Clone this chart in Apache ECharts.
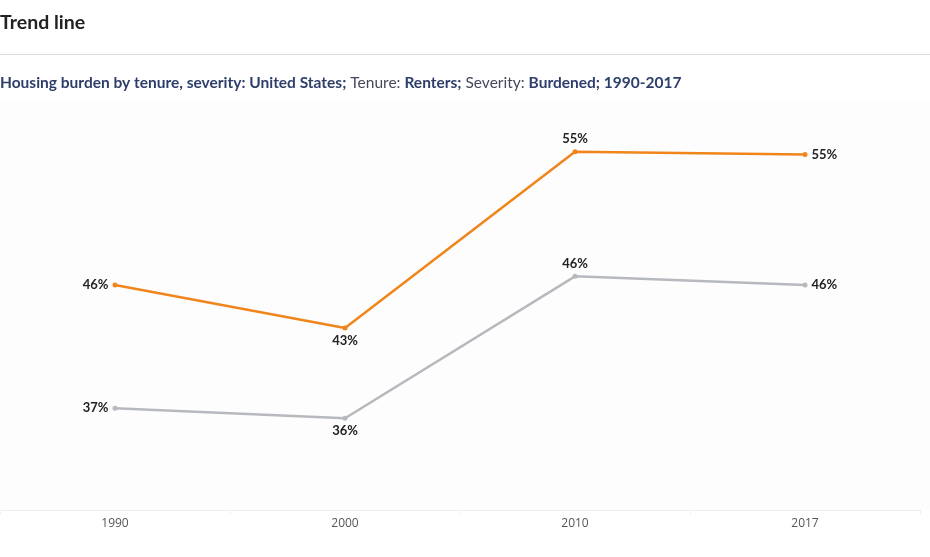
<!DOCTYPE html>
<html><head><meta charset="utf-8">
<script src="https://cdn.jsdelivr.net/npm/echarts@6/dist/echarts.min.js"></script>
<style>html,body{margin:0;padding:0;background:#fff}#c{width:930px;height:557px}</style>
</head><body><div id="c"></div>
<script>
const years = ['1990', '2000', '2010', '2017'];
const burdenedRenters = [45.7, 42.7, 55.0, 54.8];
const comparison = [37.1, 36.4, 46.3, 45.7];
const labelPositions = ['left', 'bottom', 'top', 'right'];

const chart = echarts.init(document.getElementById('c'));
const font = 'Lato, "Open Sans", sans-serif';
function mk(vals, color) {
  return {
    type: 'line',
    data: vals.map((v, i) => ({
      value: v,
      label: { position: labelPositions[i] }
    })),
    symbol: 'circle', symbolSize: 5,
    lineStyle: { color: color, width: 2.5 },
    itemStyle: { color: color },
    label: {
      show: true, distance: 4,
      formatter: p => Math.round(p.value) + '%',
      fontFamily: font, fontWeight: 'bold', fontSize: 13, color: '#222'
    },
    z: 3
  };
}
chart.setOption({
  animation: false,
  backgroundColor: '#fff',
  title: [{
    text: 'Trend line', left: 0, top: 13, padding: 0,
    textStyle: { fontFamily: font, fontWeight: 'bold', fontSize: 19.5, color: '#222' }
  }, {
    text: '{b|Housing burden by tenure, severity: United States;}{n| Tenure: }{b|Renters;}{n| Severity: }{b|Burdened; 1990-2017}',
    left: 0, top: 75, padding: 0,
    textStyle: {
      fontWeight: 'normal',
      rich: {
        b: { fontFamily: font, fontWeight: 'bold', fontSize: 15.5, color: '#2d3e6b' },
        n: { fontFamily: font, fontWeight: 'normal', fontSize: 15.5, color: '#444a5a' }
      }
    }
  }],
  graphic: [{
    type: 'rect', shape: { x: 0, y: 54, width: 930, height: 1 },
    style: { fill: '#dcdcdc' }, silent: true
  }, {
    type: 'rect', shape: { x: 0, y: 100, width: 930, height: 410 },
    style: { fill: '#fdfdfd' }, silent: true, z: -1
  }],
  grid: { left: 0, right: 10, top: 80, bottom: 47, containLabel: false },
  xAxis: {
    type: 'category', data: years, boundaryGap: true,
    axisLine: { show: true, lineStyle: { color: '#eeeeee', width: 1 } },
    axisTick: { show: true, length: 4, lineStyle: { color: '#f0f0f0' } },
    axisLabel: { color: '#555', fontFamily: '"Liberation Sans Narrow", "Open Sans", sans-serif', fontSize: 12, margin: 8 }
  },
  yAxis: {
    type: 'value', min: 30, max: 60, show: false,
    splitLine: { show: false }
  },
  series: [mk(comparison, '#b6b9bd'), mk(burdenedRenters, '#f0851c')]
});
</script></body></html>
